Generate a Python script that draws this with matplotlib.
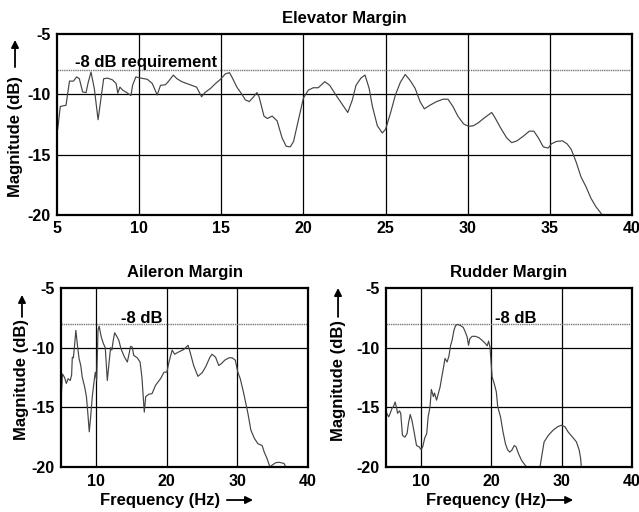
import matplotlib
matplotlib.use("Agg")
import matplotlib.pyplot as plt

plt.rcParams["font.family"] = ["Liberation Sans", "DejaVu Sans"]
plt.rcParams["font.weight"] = "bold"

# Elevator margin (Hz, dB)
elev_freq = [5.0, 5.05, 5.2, 5.55, 5.76, 6.0, 6.2, 6.36, 6.56, 6.77, 6.9, 7.07, 7.27, 7.5,
             7.68, 7.84, 8.08, 8.38, 8.6, 8.7, 8.83, 9.0, 9.3, 9.5, 9.6, 9.8, 10.1, 10.5,
             10.8, 11.1, 11.3, 11.6, 11.8, 12.08, 12.3, 12.6, 12.9, 13.2, 13.5, 13.8, 14.0,
             14.35, 14.65, 14.95, 15.25, 15.5, 15.7, 15.95, 16.26, 16.46, 16.7, 16.97, 17.17,
             17.3, 17.6, 17.8, 18.1, 18.4, 18.7, 18.95, 19.2, 19.4, 19.7, 20.0, 20.3, 20.6,
             20.9, 21.3, 21.6, 22.0, 22.4, 22.7, 22.98, 23.2, 23.5, 23.75, 24.0, 24.2, 24.5,
             24.8, 25.0, 25.3, 25.6, 25.9, 26.2, 26.5, 26.8, 27.1, 27.36, 27.7, 28.1, 28.5,
             28.8, 29.1, 29.4, 29.75, 30.05, 30.35, 30.65, 31.06, 31.46, 31.67, 31.97, 32.37,
             32.68, 33.0, 33.4, 33.75, 34.03, 34.3, 34.6, 34.9, 35.1, 35.4, 35.77, 36.05,
             36.3, 36.6, 36.9, 37.2, 37.5, 37.8, 38.2]
elev_db = [-13.2, -12.8, -11.0, -10.9, -8.9, -8.9, -8.55, -8.7, -9.8, -9.85, -9.0, -8.15,
           -9.5, -12.1, -10.3, -8.7, -8.65, -8.8, -9.1, -9.9, -9.4, -9.65, -9.9, -10.1,
           -9.25, -8.55, -8.65, -8.75, -9.1, -10.05, -9.25, -9.2, -8.9, -8.4, -8.7, -8.95,
           -9.1, -9.25, -9.4, -10.2, -9.85, -9.5, -9.1, -8.75, -8.3, -8.2, -8.7, -9.4,
           -10.0, -10.45, -10.6, -10.2, -9.85, -10.2, -11.8, -12.0, -11.8, -12.2, -13.6,
           -14.3, -14.35, -13.9, -12.1, -10.3, -9.65, -9.45, -9.45, -8.95, -9.25, -10.1,
           -10.9, -11.5, -10.45, -9.25, -8.65, -8.4, -9.5, -11.0, -12.6, -13.2, -12.9,
           -11.55, -10.05, -9.0, -8.35, -8.85, -9.5, -10.6, -11.2, -10.9, -10.6, -10.4,
           -10.4, -11.0, -11.8, -12.45, -12.65, -12.6, -12.35, -11.9, -11.5, -11.95, -12.7,
           -13.6, -14.0, -13.85, -13.45, -13.05, -13.05, -13.6, -14.35, -14.45, -14.1,
           -13.9, -13.85, -14.1, -14.55, -15.6, -16.85, -17.65, -18.6, -19.3, -20.0]

# Aileron margin
ail_freq = [5.0, 5.2, 5.5, 5.75, 6.0, 6.3, 6.5, 6.6, 6.75, 6.9, 7.1, 7.3, 7.55, 7.8, 8.0,
            8.35, 8.6, 8.8, 9.0, 9.2, 9.43, 9.7, 9.86, 10.05, 10.24, 10.4, 10.7, 11.0,
            11.27, 11.56, 11.84, 12.03, 12.2, 12.4, 12.6, 12.9, 13.2, 13.5, 14.0, 14.4,
            14.7, 14.85, 15.1, 15.3, 15.8, 16.2, 16.46, 16.65, 16.8, 17.0, 17.45, 17.9,
            18.4, 19.1, 19.6, 20.0, 20.3, 20.75, 21.1, 21.7, 22.4, 23.0, 23.35, 23.8, 24.4,
            25.0, 25.5, 26.1, 26.4, 26.9, 27.36, 27.7, 28.2, 28.8, 29.25, 29.7, 30.05,
            30.4, 30.9, 31.5, 31.9, 32.4, 32.9, 33.5, 33.8, 34.2, 34.6, 34.9, 35.4, 35.85,
            36.6, 36.9]
ail_db = [-14.5, -12.2, -12.5, -13.0, -12.6, -12.75, -12.3, -10.8, -10.85, -9.95, -8.55,
          -9.65, -10.9, -11.5, -12.45, -13.3, -14.1, -15.5, -17.05, -15.8, -14.1, -12.75,
          -12.05, -12.75, -8.55, -8.2, -9.1, -9.65, -10.0, -12.75, -11.05, -10.0, -10.2,
          -9.4, -8.75, -9.05, -9.4, -10.1, -10.8, -11.2, -10.35, -9.9, -9.95, -10.65,
          -10.85, -11.2, -12.45, -14.1, -15.4, -14.1, -13.9, -13.85, -13.15, -12.6,
          -12.05, -12.05, -11.2, -10.2, -10.55, -10.35, -10.15, -9.8, -10.5, -11.5, -12.4,
          -12.1, -11.6, -10.8, -10.55, -10.8, -11.5, -11.35, -11.05, -10.85, -10.85,
          -11.05, -12.05, -12.6, -13.85, -15.55, -16.9, -17.6, -18.05, -18.2, -18.75,
          -19.3, -20.0, -19.85, -19.65, -19.6, -19.7, -20.05]

# Rudder margin (dips below -20 between 25 and 27 Hz)
rud_freq = [5.0, 5.1, 5.4, 5.6, 5.85, 6.1, 6.3, 6.5, 6.65, 6.93, 7.1, 7.35, 7.7, 8.0, 8.2,
            8.45, 8.7, 9.0, 9.35, 9.7, 10.0, 10.24, 10.5, 10.8, 11.0, 11.27, 11.46, 11.75,
            11.9, 12.2, 12.45, 12.7, 12.9, 13.16, 13.4, 13.7, 13.96, 14.2, 14.4, 14.67,
            14.9, 15.2, 15.6, 16.0, 16.3, 16.55, 16.75, 16.93, 17.26, 17.7, 18.2, 18.7,
            19.15, 19.4, 19.6, 19.8, 20.0, 20.1, 20.4, 20.7, 20.9, 21.3, 21.65, 22.0, 22.3,
            22.6, 22.9, 23.25, 23.5, 23.87, 24.3, 24.8, 25.1, 25.6, 26.2, 26.9, 27.3, 27.5,
            28.1, 28.8, 29.5, 30.0, 30.5, 30.9, 31.55, 32.1, 32.5, 32.7, 32.8, 33.0]
rud_db = [-15.2, -15.5, -15.8, -15.5, -15.1, -14.9, -14.55, -15.0, -15.5, -15.3, -15.5,
          -17.35, -17.5, -17.2, -16.35, -15.6, -16.1, -17.05, -18.2, -18.3, -18.55, -18.3,
          -17.6, -17.2, -15.8, -14.95, -13.5, -14.1, -13.8, -14.4, -13.85, -13.3, -12.6,
          -11.75, -10.9, -11.2, -10.7, -9.8, -9.4, -8.55, -8.15, -8.05, -8.15, -8.3, -8.7,
          -9.1, -9.8, -9.25, -9.05, -9.05, -9.15, -9.4, -9.65, -9.85, -9.45, -9.95, -11.6,
          -12.45, -13.0, -13.7, -14.95, -15.8, -17.05, -18.05, -18.55, -18.75, -18.6,
          -18.2, -18.3, -18.9, -19.45, -19.85, -20.05, -20.6, -20.8, -20.05, -18.6, -17.9,
          -17.35, -16.9, -16.6, -16.5, -16.65, -17.05, -17.5, -17.9, -18.6, -19.3, -20.05,
          -21.0]

requirement = -8
y_ticks = [-5, -10, -15, -20]

fig = plt.figure(figsize=(6.39, 5.12), dpi=100)

ax_top = fig.add_axes([0.0892, 0.580, 0.8998, 0.3535])
ax_ail = fig.add_axes([0.0955, 0.0879, 0.3865, 0.3496])
ax_rud = fig.add_axes([0.604, 0.0879, 0.385, 0.3496])


def style_axes(ax, xticks, grid_x, xpad):
    ax.set_xlim(5, 40)
    ax.set_ylim(-20, -5)
    ax.set_yticks(y_ticks)
    ax.set_yticklabels([str(v) for v in y_ticks])
    ax.set_xticks(xticks)
    ax.set_xticklabels([str(v) for v in xticks])
    ax.tick_params(axis="x", length=0, labelsize=11.5, pad=xpad)
    ax.tick_params(axis="y", length=0, labelsize=11.5, pad=4.5)
    for lab in ax.get_xticklabels() + ax.get_yticklabels():
        lab.set_fontweight("bold")
    for v in grid_x:
        ax.axvline(v, color="black", lw=0.9, zorder=1)
    for v in [-10, -15]:
        ax.axhline(v, color="black", lw=0.9, zorder=1)
    ax.axhline(requirement, color="#777777", lw=1.0, ls=(0, (1, 0.6)), zorder=1)
    for s in ax.spines.values():
        s.set_linewidth(1.6)


style_axes(ax_top, [5, 10, 15, 20, 25, 30, 35, 40], [10, 15, 20, 25, 30, 35], 4)
style_axes(ax_ail, [10, 20, 30, 40], [10, 20, 30], 5)
style_axes(ax_rud, [10, 20, 30, 40], [10, 20, 30], 5)

ax_top.plot(elev_freq, elev_db, color="#444444", lw=0.85, zorder=2)
ax_ail.plot(ail_freq, ail_db, color="#444444", lw=0.85, zorder=2)
ax_rud.plot(rud_freq, rud_db, color="#444444", lw=0.85, zorder=2)

ax_top.set_title("Elevator Margin", fontsize=12, fontweight="bold", pad=8)
ax_ail.set_title("Aileron Margin", fontsize=12, fontweight="bold", pad=8)
ax_rud.set_title("Rudder Margin", fontsize=12, fontweight="bold", pad=8)

ax_top.text(6.1, -7.75, "-8 dB requirement", fontsize=12, fontweight="bold", va="baseline")
ax_ail.text(13.5, -7.9, "-8 dB", fontsize=12, fontweight="bold", va="baseline")
ax_rud.text(20.5, -7.9, "-8 dB", fontsize=12, fontweight="bold", va="baseline")

# y labels with upward arrows
for x, yc, y0, y1 in [(0.0235, 0.734, 0.869, 0.922), (0.0344, 0.258, 0.381, 0.424),
                      (0.529, 0.256, 0.381, 0.4375)]:
    fig.text(x, yc, "Magnitude (dB)", rotation=90, ha="center", va="center",
             fontsize=12, fontweight="bold")
    fig.add_artist(matplotlib.patches.FancyArrowPatch(
        (x, y0), (x, y1), transform=fig.transFigure, arrowstyle="-|>",
        mutation_scale=11, lw=1.3, color="black", shrinkA=0, shrinkB=0))

# x labels with rightward arrows
for xc, x0, x1 in [(0.251, 0.355, 0.396), (0.760, 0.856, 0.897)]:
    fig.text(xc, 0.0234, "Frequency (Hz)", ha="center", va="center",
             fontsize=12, fontweight="bold")
    fig.add_artist(matplotlib.patches.FancyArrowPatch(
        (x0, 0.0234), (x1, 0.0234), transform=fig.transFigure, arrowstyle="-|>",
        mutation_scale=11, lw=1.3, color="black", shrinkA=0, shrinkB=0))

fig.savefig("out.png", dpi=100)
